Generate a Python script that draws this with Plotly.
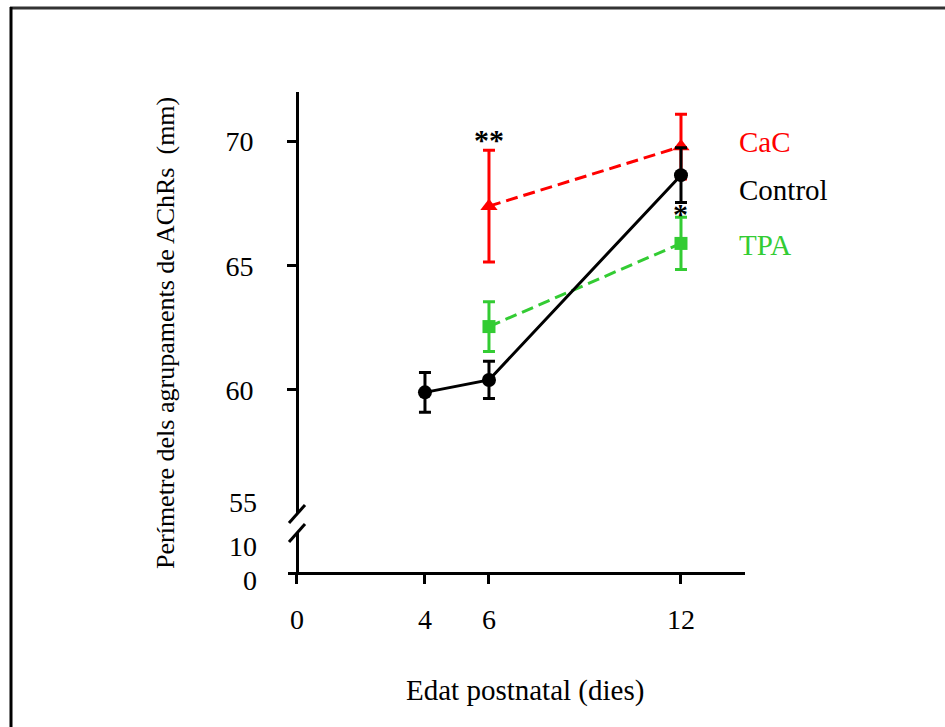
import plotly.graph_objects as go

# Postnatal age (days) and mean perimeter of AChR clusters with SEM
days_control = [4, 6, 12]
control_mean = [59.9, 60.4, 68.65]
control_err = [0.8, 0.75, 1.1]

days_cac = [6, 12]
cac_mean = [67.4, 69.8]
cac_err = [2.25, 1.3]

days_tpa = [6, 12]
tpa_mean = [62.55, 65.9]
tpa_err = [1.0, 1.05]

x_ticks = [0, 4, 6, 12]
y_ticks_upper = [60, 65, 70]
y_break_label = 55
y_ticks_lower = [10, 0]

series_labels = ["CaC", "Control", "TPA"]
label_levels = [70.0, 68.05, 65.85]
stars = ["**", "*"]

RED = "#ff0000"
GREEN = "#33cc33"
BLACK = "#000000"
FONT = "Liberation Serif"

W, H = 945, 727
L, R, T, B = 288, 745, 92, 572
PW, PH = R - L, B - T


def px(xp):
    return (xp - L) / PW


def py(yp):
    return (B - yp) / PH


fig = go.Figure()

# Empty trace so the lower (0-10) axis segment is laid out
fig.add_trace(go.Scatter(x=[None], y=[None], yaxis="y2", showlegend=False,
                         hoverinfo="skip"))


def add_series(xs, ys, es, color, symbol, dash, size):
    fig.add_trace(go.Scatter(
        x=xs, y=ys, mode="lines+markers",
        line=dict(color=color, width=3, dash=dash),
        marker=dict(color=color, symbol=symbol, size=size),
        error_y=dict(type="data", array=es, visible=True, color=color,
                     thickness=3, width=6),
        showlegend=False, cliponaxis=False,
    ))


add_series(days_cac, cac_mean, cac_err, RED, "triangle-up", "12px,6px", 15)
add_series(days_tpa, tpa_mean, tpa_err, GREEN, "square", "12px,6px", 13)
add_series(days_control, control_mean, control_err, BLACK, "circle", "solid", 14)

# Series labels at the right of the plot
colors = [RED, BLACK, GREEN]
for name, lev, col in zip(series_labels, label_levels, colors):
    fig.add_annotation(x=13.75, y=lev, xref="x", yref="y", text=name,
                       showarrow=False, xanchor="left", yanchor="middle",
                       font=dict(family=FONT, size=29, color=col))

# Significance marks
fig.add_annotation(x=days_cac[0], y=cac_mean[0] + cac_err[0], xref="x", yref="y",
                   text="<b>" + stars[0] + "</b>", showarrow=False, yanchor="bottom",
                   yshift=-8, font=dict(family=FONT, size=30, color=BLACK))
fig.add_annotation(x=days_control[2], y=control_mean[2] - control_err[2], xref="x", yref="y",
                   text="<b>" + stars[1] + "</b>", showarrow=False, yanchor="top",
                   yshift=7, font=dict(family=FONT, size=30, color=BLACK))

y_split_top = py(514)
y_split_bot = py(533)
yaxis_pos = px(297)
tick_font = dict(family=FONT, size=28, color=BLACK)

axis_common = dict(showline=True, linecolor=BLACK, linewidth=3, ticks="outside",
                   ticklen=9, tickwidth=3, tickcolor=BLACK, showgrid=False,
                   zeroline=False, tickfont=tick_font)

fig.update_layout(
    width=W, height=H,
    margin=dict(l=L, r=W - R, t=T, b=H - B),
    paper_bgcolor="white", plot_bgcolor="white",
    xaxis=dict(range=[-0.28, 14.0], tickvals=x_ticks, anchor="y2",
               ticklabelstandoff=11, **axis_common),
    yaxis=dict(range=[55, 72], domain=[y_split_top, 1.0], tickvals=y_ticks_upper,
               anchor="free", position=yaxis_pos, ticklabelstandoff=28, **axis_common),
    yaxis2=dict(range=[0, 15], domain=[0, y_split_bot], showline=True, linecolor=BLACK,
                linewidth=3, ticks="", showticklabels=False, showgrid=False,
                zeroline=False, anchor="free", position=yaxis_pos),
)

# Labels at the axis break and on the short lower segment
fig.add_annotation(x=px(259), y=y_break_label, xref="paper", yref="y",
                   text=str(y_break_label), showarrow=False, xanchor="right",
                   yanchor="middle", yshift=12, font=tick_font)
for v, shift in zip(y_ticks_lower, (0, -8)):
    fig.add_annotation(x=px(259), y=v, xref="paper", yref="y2", text=str(v),
                       showarrow=False, xanchor="right", yanchor="middle",
                       yshift=shift, font=tick_font)

# Axis titles
fig.add_annotation(x=px(525), y=py(690), xref="paper", yref="paper",
                   text="Edat postnatal (dies)", showarrow=False,
                   xanchor="center", yanchor="middle",
                   font=dict(family=FONT, size=29, color=BLACK))
fig.add_annotation(x=px(165), y=py(333), xref="paper", yref="paper",
                   text="Perímetre dels agrupaments de AChRs  (mm)", textangle=-90,
                   showarrow=False, xanchor="center", yanchor="middle",
                   font=dict(family=FONT, size=26, color=BLACK))

# Axis break marks
for yc in (514, 533):
    fig.add_shape(type="line", xref="paper", yref="paper",
                  x0=px(289), y0=py(yc + 9), x1=px(305), y1=py(yc - 9),
                  line=dict(color=BLACK, width=3))

# Outer frame (top and left edges)
fig.add_shape(type="line", xref="paper", yref="paper",
              x0=px(10), y0=py(8), x1=px(945), y1=py(8),
              line=dict(color="#333333", width=3))
fig.add_shape(type="line", xref="paper", yref="paper",
              x0=px(11), y0=py(7), x1=px(11), y1=py(727),
              line=dict(color=BLACK, width=3))

fig.write_html("out.html")
